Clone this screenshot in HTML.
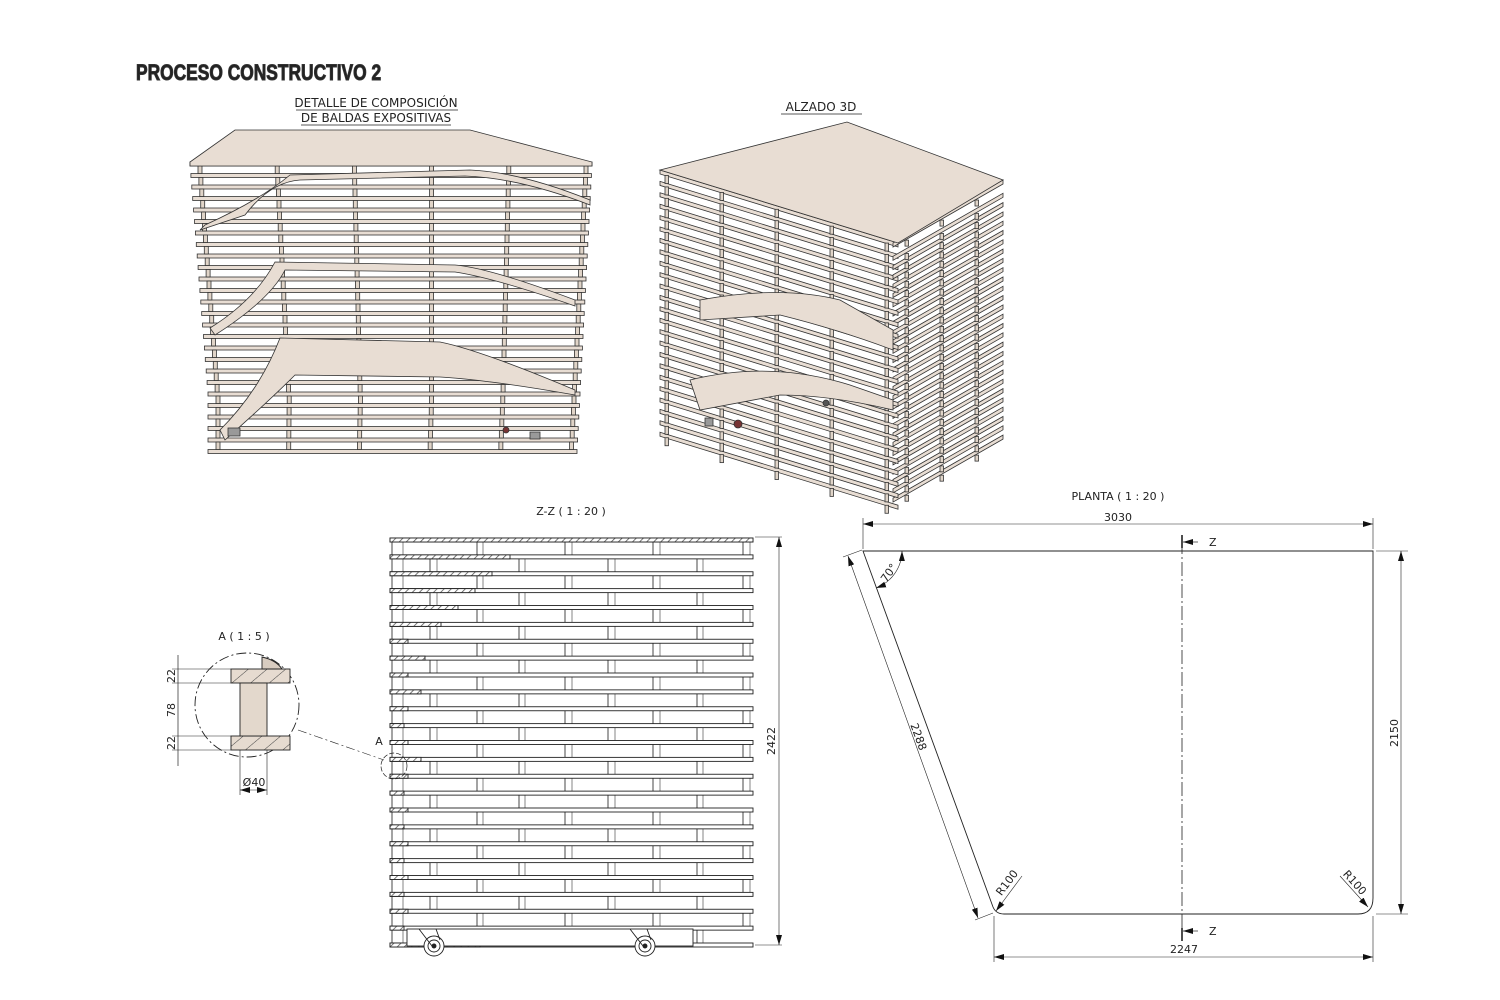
<!DOCTYPE html>
<html><head><meta charset="utf-8"><style>
html,body{margin:0;padding:0;background:#fff}
svg{display:block}
text{font-family:"DejaVu Sans","Liberation Sans",sans-serif;fill:#222}
</style></head><body>
<svg id="s" width="1500" height="1000" viewBox="0 0 1500 1000" xmlns="http://www.w3.org/2000/svg">
<defs>
<pattern id="h" width="5" height="5" patternUnits="userSpaceOnUse" patternTransform="rotate(45)"><rect width="5" height="5" fill="#fff"/><line x1="0" y1="0" x2="0" y2="5" stroke="#555" stroke-width="1.6"/></pattern>
<pattern id="hw" width="12" height="12" patternUnits="userSpaceOnUse" patternTransform="rotate(50)"><rect width="12" height="12" fill="#e6dbd0"/><line x1="0" y1="0" x2="0" y2="12" stroke="#444" stroke-width="1"/></pattern>
<marker id="a" markerWidth="10" markerHeight="6" refX="10" refY="3" orient="auto-start-reverse" markerUnits="userSpaceOnUse"><path d="M0,0 L10,3 L0,6z" fill="#111"/></marker>
</defs>
<text transform="translate(136,80) scale(0.79,1)" font-size="22" font-weight="bold" fill="#e4e4e4" stroke="#333" stroke-width="1" style="font-family:'Liberation Sans',sans-serif">PROCESO CONSTRUCTIVO 2</text>
<text x="376" y="107" font-size="12" text-anchor="middle">DETALLE DE COMPOSICIÓN</text>
<text x="376" y="122" font-size="12" text-anchor="middle">DE BALDAS EXPOSITIVAS</text>
<line x1="296" y1="110" x2="458" y2="110" stroke="#222" stroke-width="0.8"/>
<line x1="301" y1="125" x2="451" y2="125" stroke="#222" stroke-width="0.8"/>
<text x="821" y="111" font-size="12" text-anchor="middle">ALZADO 3D</text>
<line x1="781" y1="114" x2="862" y2="114" stroke="#222" stroke-width="0.8"/>
<g id="g3d" stroke="#333" stroke-width="0.8" fill="#e8ddd3"></g>
<g id="zz" stroke="#222" stroke-width="0.9" fill="#fff"></g>
<text x="571" y="515" font-size="11" text-anchor="middle">Z-Z ( 1 : 20 )</text>
<text x="1118" y="500" font-size="11" text-anchor="middle">PLANTA ( 1 : 20 )</text>
<text x="244" y="640" font-size="11" text-anchor="middle">A ( 1 : 5 )</text>
<g stroke="#222" stroke-width="0.9">
<circle cx="247" cy="705" r="52" fill="none" stroke-dasharray="10,3,2,3"/>
<rect x="231" y="669" width="59" height="14" fill="url(#hw)"/>
<rect x="231" y="736" width="59" height="14" fill="url(#hw)"/>
<rect x="240" y="683" width="27" height="53" fill="#e3d8cc"/>
<path d="M262,657 L262,669 L282,669 Q276,660 262,657z" fill="#d8ccc0"/>
<line x1="178" y1="655" x2="178" y2="766" stroke-width="0.7"/>
<g stroke-width="0.6"><line x1="172" y1="669" x2="231" y2="669"/><line x1="172" y1="683" x2="231" y2="683"/><line x1="172" y1="736" x2="231" y2="736"/><line x1="172" y1="750" x2="231" y2="750"/>
<line x1="240" y1="750" x2="240" y2="795"/><line x1="267" y1="750" x2="267" y2="795"/>
<line x1="240" y1="790" x2="267" y2="790" marker-start="url(#a)" marker-end="url(#a)"/>
<line x1="298" y1="730" x2="384" y2="760" stroke-dasharray="9,3,2,3"/></g>
<circle cx="394" cy="766" r="13" fill="none" stroke-dasharray="5,2" stroke-width="0.7"/>
</g>
<text font-size="11" transform="translate(175,676) rotate(-90)" text-anchor="middle">22</text>
<text font-size="11" transform="translate(175,710) rotate(-90)" text-anchor="middle">78</text>
<text font-size="11" transform="translate(175,743) rotate(-90)" text-anchor="middle">22</text>
<text x="254" y="786" font-size="11" text-anchor="middle">Ø40</text>
<text x="379" y="745" font-size="11" text-anchor="middle">A</text>
<g stroke="#222" stroke-width="0.9" fill="none">
<path d="M863,551 L1373,551 L1373,898 Q1373,914 1358,914 L1004,914 Q996,914 993,907 Z"/>
<line x1="1182" y1="540" x2="1182" y2="935" stroke-dasharray="14,3,2,3" stroke-width="0.8"/>
<line x1="1182" y1="535" x2="1182" y2="548" stroke-width="1.6"/>
<line x1="1182" y1="928" x2="1182" y2="941" stroke-width="1.6"/>
<line x1="1198" y1="542" x2="1183" y2="542" marker-end="url(#a)" stroke-width="0.7"/>
<line x1="1198" y1="931" x2="1183" y2="931" marker-end="url(#a)" stroke-width="0.7"/>
<g stroke-width="0.6">
<line x1="863" y1="518" x2="863" y2="549"/><line x1="1373" y1="518" x2="1373" y2="549"/>
<line x1="863" y1="524" x2="1373" y2="524" marker-start="url(#a)" marker-end="url(#a)"/>
<line x1="994" y1="916" x2="994" y2="962"/><line x1="1373" y1="916" x2="1373" y2="962"/>
<line x1="994" y1="957" x2="1373" y2="957" marker-start="url(#a)" marker-end="url(#a)"/>
<line x1="1376" y1="551" x2="1408" y2="551"/><line x1="1376" y1="914" x2="1408" y2="914"/>
<line x1="1401" y1="551" x2="1401" y2="914" marker-start="url(#a)" marker-end="url(#a)"/>
<line x1="862" y1="550" x2="843" y2="557"/><line x1="993" y1="913" x2="975" y2="920"/>
<line x1="848" y1="556" x2="978" y2="918" marker-start="url(#a)" marker-end="url(#a)"/>
<path d="M902,551 A40,40 0 0 1 876,588" marker-start="url(#a)" marker-end="url(#a)"/>
<line x1="1022" y1="876" x2="996" y2="911" marker-end="url(#a)"/>
<line x1="1340" y1="876" x2="1368" y2="907" marker-end="url(#a)"/>
</g></g>
<text x="1118" y="521" font-size="11" text-anchor="middle">3030</text>
<text x="1184" y="953" font-size="11" text-anchor="middle">2247</text>
<text x="1209" y="546" font-size="11">Z</text>
<text x="1209" y="935" font-size="11">Z</text>
<text font-size="11" transform="translate(1398,733) rotate(-90)" text-anchor="middle">2150</text>
<text font-size="11" transform="translate(775,741) rotate(-90)" text-anchor="middle">2422</text>
<text font-size="11" transform="translate(915,738) rotate(70)" text-anchor="middle">2288</text>
<text font-size="11" transform="translate(892,575) rotate(-55)" text-anchor="middle">70°</text>
<text font-size="11" transform="translate(1010,885) rotate(-53)" text-anchor="middle">R100</text>
<text font-size="11" transform="translate(1352,885) rotate(48)" text-anchor="middle">R100</text>
<script>
var NS="http://www.w3.org/2000/svg";
function el(p,t,a){var e=document.createElementNS(NS,t);for(var k in a)e.setAttribute(k,a[k]);p.appendChild(e);return e;}
var zz=document.getElementById('zz');
var sp=16.875, hl=[753,510,492,475,458,441,408,425,408,421,408,404,408,421,408,404,408,404,408,404,408,404,408,404,480];
var A=[[392,403],[477,483],[565,572],[653,660],[743,750]], B=[[392,403],[430,437],[519,525],[608,615],[697,703]];
for(var i=0;i<25;i++){var y=538+i*sp;
 if(i<24){var P=(i%2==0)?A:B;
  P.forEach(function(p){el(zz,'line',{x1:p[0],y1:y+4,x2:p[0],y2:y+sp,stroke:'#333'});el(zz,'line',{x1:p[1],y1:y+4,x2:p[1],y2:y+sp,stroke:'#777'});});}
 el(zz,'rect',{x:390,y:y,width:363,height:4});
 el(zz,'rect',{x:390,y:y,width:hl[i]-390,height:4,fill:'url(#h)'});
}
el(zz,'rect',{x:407,y:929,width:286,height:17,fill:'#fff'});
[434,645].forEach(function(cx){el(zz,'circle',{cx:cx,cy:946,r:10});el(zz,'circle',{cx:cx,cy:946,r:6});el(zz,'circle',{cx:cx,cy:946,r:2,fill:'#222'});el(zz,'path',{d:'M'+(cx-15)+',929 L'+(cx-2)+',946 M'+(cx+2)+',929 L'+(cx+6)+',940',fill:'none'});});
el(zz,'line',{x1:755,y1:537,x2:782,y2:537,'stroke-width':0.6});el(zz,'line',{x1:755,y1:945,x2:782,y2:945,'stroke-width':0.6});
el(zz,'line',{x1:779,y1:537,x2:779,y2:945,'stroke-width':0.6,'marker-start':'url(#a)','marker-end':'url(#a)'});
var g=document.getElementById('g3d');
for(var i=25;i>=0;i--){var y=162+i*11.5;
 var xl=190+Math.min(i,20)*0.9, xr=592-i*0.6;
 el(g,'rect',{x:xl,y:y,width:xr-xl,height:4});
 if(i<25){ for(var k=0;k<6;k++){var px=xl+8+k*(xr-xl-16)/5; el(g,'rect',{x:px,y:y+4,width:4,height:7.5,fill:'#e0d4c8'});} }
}
var sh=['M290,175 L470,170 Q520,172 590,200 L590,205 Q520,178 465,176 L300,180 Q270,182 245,215 L200,230 L205,225 Q260,200 290,175z',
 'M275,262 L455,265 Q490,268 575,300 L575,306 Q495,278 455,272 L285,270 Q270,300 215,335 L210,328 Q255,300 275,262z',
 'M280,338 L440,342 Q480,350 575,390 L575,395 Q490,380 440,377 L295,375 Q270,400 225,440 L220,430 Q260,390 280,338z'];
sh.forEach(function(s){el(g,'path',{d:s});});
el(g,'path',{d:'M190,162 L235,130 L470,130 L592,162 L592,166 L190,166z'});
for(var i=27;i>=0;i--){
 if(i<24){var y2=170+i*11.4; el(g,'path',{d:'M660,'+y2+' L898,'+(y2+73)+' L898,'+(y2+77)+' L660,'+(y2+4)+'z'});
  for(var k=0;k<5;k++){var px=665+k*55; el(g,'rect',{x:px,y:y2+4+(px-660)*0.307,width:3.5,height:8,fill:'#e0d4c8'});}}
 var ya=243+i*9.3+(i>0?4:0);
 el(g,'path',{d:'M893,'+ya+' L1003,'+(ya-63)+' L1003,'+(ya-59)+' L893,'+(ya+4)+'z'});
 for(var k=0;k<3;k++){var px=905+k*35; el(g,'rect',{x:px,y:ya+4-(px-893)*0.573,width:3.5,height:6,fill:'#e0d4c8'});}
}
el(g,'path',{d:'M700,300 Q780,285 840,300 L893,330 L893,350 Q840,330 780,315 L700,320z'});
el(g,'path',{d:'M690,380 Q770,360 850,385 L893,400 L893,410 Q830,395 780,395 L700,410z'});
el(g,'path',{d:'M660,170 L847,122 L1003,180 L898,243 Z'});
el(g,'rect',{x:705,y:418,width:8,height:8,fill:'#999'});el(g,'circle',{cx:738,cy:424,r:4,fill:'#733'});el(g,'circle',{cx:826,cy:403,r:3,fill:'#555'});
el(g,'rect',{x:228,y:428,width:12,height:8,fill:'#999'});el(g,'circle',{cx:506,cy:430,r:3,fill:'#733'});el(g,'rect',{x:530,y:432,width:10,height:7,fill:'#999'});
</script>
</svg>
</body></html>
